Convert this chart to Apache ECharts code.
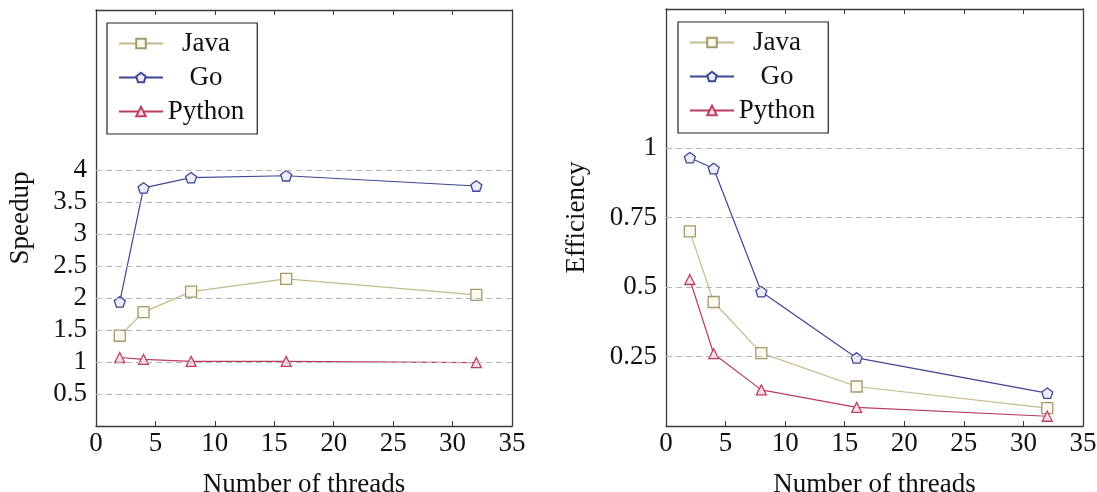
<!DOCTYPE html>
<html>
<head>
<meta charset="utf-8">
<script src="https://cdn.jsdelivr.net/npm/echarts@6/dist/echarts.min.js"></script>
<style>
html,body{margin:0;padding:0;background:#fff;}
#chart{width:1097px;height:492px;}
</style>
</head>
<body>
<div id="chart"></div>
<script>
// ---- data ----
const threads = [2, 4, 8, 16, 32];
const speedupJava   = [1.41, 1.78, 2.10, 2.30, 2.05];
const speedupGo     = [1.94, 3.72, 3.88, 3.91, 3.75];
const speedupPython = [1.07, 1.04, 1.01, 1.01, 0.99];
const effJava   = [0.70, 0.446, 0.262, 0.142, 0.064];
const effGo     = [0.965, 0.926, 0.483, 0.245, 0.118];
const effPython = [0.527, 0.260, 0.130, 0.067, 0.035];
const xTicks = [0, 5, 10, 15, 20, 25, 30, 35];
const speedupTicks = [0.5, 1, 1.5, 2, 2.5, 3, 3.5, 4];
const effTicks = [0.25, 0.5, 0.75, 1];
const seriesNames = ['Java', 'Go', 'Python'];

// ---- styles ----
const FONT = 'Liberation Serif';
const FS = 27;
const AX = '#3a3a3a';
const styles = {
  Java:   {line: '#c4bb8c', border: '#a39a6c', fill: '#faf8ef', symbol: 'rect', size: 11},
  Go:     {line: '#3d4796', border: '#3d4796', fill: '#ecedf7', symbol: 'path://M0,-10 L9.51,-3.09 L5.88,8.09 L-5.88,8.09 L-9.51,-3.09 Z', size: 11},
  Python: {line: '#b83d5e', border: '#bc4066', fill: '#f7e1e8', symbol: 'triangle', size: 10}
};

function pairs(ys){ return threads.map((x,i)=>[x, ys[i]]); }

function mkSeries(name, ys, idx){
  const s = styles[name];
  return {
    name, type: 'line', xAxisIndex: idx*2, yAxisIndex: idx*2, data: pairs(ys),
    symbol: s.symbol, symbolSize: s.size, symbolKeepAspect: true,
    lineStyle: {color: s.line, width: 1.2},
    itemStyle: {color: s.fill, borderColor: s.border, borderWidth: 1.3},
    emphasis: {disabled: true}, animation: false, z: 3
  };
}
function gridSeries(ticks, idx){
  return {
    name: 'grid' + idx, type: 'line', xAxisIndex: idx*2, yAxisIndex: idx*2, data: [],
    silent: true, animation: false, z: 1,
    markLine: {
      silent: true, symbol: ['none','none'], animation: false,
      label: {show: false},
      lineStyle: {color: '#b5b5b5', type: [6, 4], width: 1},
      data: ticks.map(v => ({yAxis: v}))
    }
  };
}

function xAxes(gridIndex){
  const base = {
    type: 'value', gridIndex, min: 0, max: 35, interval: 5,
    axisLine: {show: true, onZero: false, lineStyle: {color: AX, width: 1.3}},
    axisTick: {show: true, inside: true, length: 5, lineStyle: {color: AX}},
    splitLine: {show: false}
  };
  return [
    Object.assign({}, base, {
      position: 'bottom',
      axisLabel: {show: true, margin: 4, color: '#111', fontFamily: FONT, fontSize: FS,
                  customValues: xTicks},
      name: 'Number of threads', nameLocation: 'middle', nameGap: 45,
      nameTextStyle: {color: '#111', fontFamily: FONT, fontSize: FS}
    }),
    Object.assign({}, base, {position: 'top', axisLabel: {show: false}})
  ];
}
function yAxes(gridIndex, max, interval, ticks, name, gap){
  const base = {
    type: 'value', gridIndex, min: 0, max, interval,
    axisLine: {show: true, onZero: false, lineStyle: {color: AX, width: 1.3}},
    axisTick: {show: true, inside: true, length: 5, lineStyle: {color: AX}, customValues: ticks},
    splitLine: {show: false}
  };
  return [
    Object.assign({}, base, {
      position: 'left',
      axisLabel: {show: true, margin: 9, color: '#111', fontFamily: FONT, fontSize: FS,
                  customValues: ticks},
      name, nameLocation: 'middle', nameGap: gap, nameRotate: 90,
      nameTextStyle: {color: '#111', fontFamily: FONT, fontSize: FS}
    }),
    Object.assign({}, base, {position: 'right', axisLabel: {show: false}})
  ];
}

function legend(left, top){
  return {
    show: true, orient: 'vertical', left, top,
    data: seriesNames,
    backgroundColor: '#fff', borderColor: '#222', borderWidth: 1.2,
    padding: [7, 13, 9, 11], itemGap: 7, itemWidth: 44, itemHeight: 12,
    selectedMode: false,
    formatter: n => '{a|' + n + '}',
    textStyle: {
      color: '#111', fontFamily: FONT, fontSize: FS,
      rich: {a: {width: 76, align: 'center', fontFamily: FONT, fontSize: FS, lineHeight: 27, color: '#111'}}
    }
  };
}

const chart = echarts.init(document.getElementById('chart'), null, {renderer: 'canvas'});
chart.setOption({
  animation: false,
  backgroundColor: '#fff',
  grid: [
    {left: 96, top: 10, width: 416, height: 416, containLabel: false, outerBoundsMode: 'none'},
    {left: 666, top: 9, width: 417, height: 417, containLabel: false, outerBoundsMode: 'none'}
  ],
  legend: [legend(107, 23), legend(678, 22)],
  xAxis: [...xAxes(0), ...xAxes(1)],
  yAxis: [
    ...yAxes(0, 6.5, 0.5, speedupTicks, 'Speedup', 62),
    ...yAxes(1, 1.5, 0.25, effTicks, 'Efficiency', 76)
  ],
  series: [
    gridSeries(speedupTicks, 0),
    gridSeries(effTicks, 1),
    mkSeries('Java', speedupJava, 0),
    mkSeries('Go', speedupGo, 0),
    mkSeries('Python', speedupPython, 0),
    mkSeries('Java', effJava, 1),
    mkSeries('Go', effGo, 1),
    mkSeries('Python', effPython, 1)
  ]
});
</script>
</body>
</html>
